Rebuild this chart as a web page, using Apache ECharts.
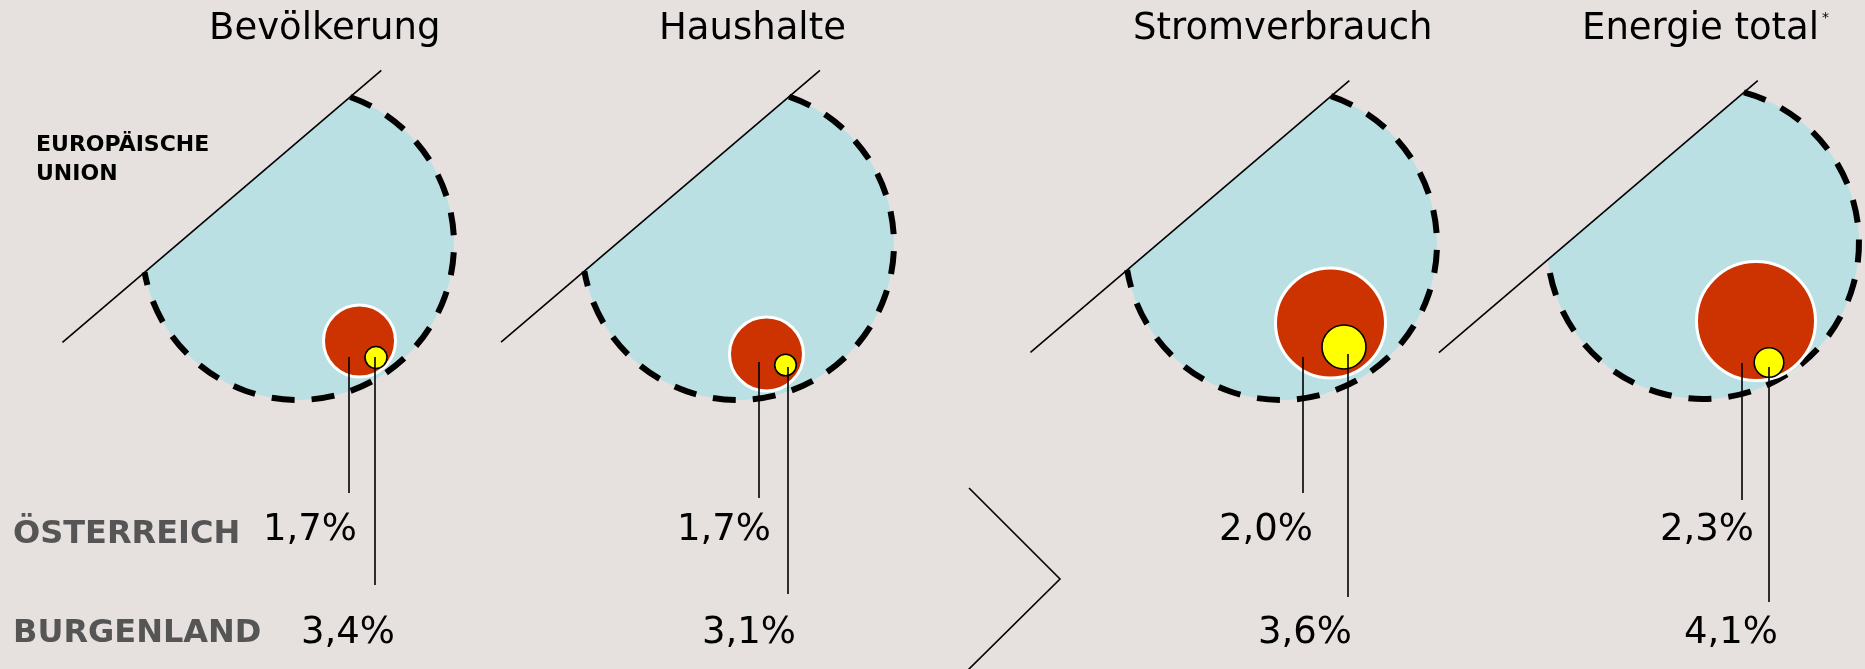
<!DOCTYPE html>
<html>
<head>
<meta charset="utf-8">
<script src="https://cdn.jsdelivr.net/npm/echarts@6/dist/echarts.min.js"></script>
<style>
  html, body { margin: 0; padding: 0; background: #e6e1df; }
  #main { width: 1865px; height: 669px; }
</style>
</head>
<body>
<div id="main"></div>
<script>
// data
const categories = ['Bevölkerung', 'Haushalte', 'Stromverbrauch', 'Energie total'];
const footnotes = ['', '', '', '*'];
const austria = [1.7, 1.7, 2.0, 2.3];     // Anteil Österreich an EU
const burgenland = [3.4, 3.1, 3.6, 4.1];  // Anteil Burgenland
const rowLabels = ['ÖSTERREICH', 'BURGENLAND'];
const euLabel = ['EUROPÄISCHE', 'UNION'];

// layout per panel (pixels)
const layout = [
  { cx: 298, cy: 244, r: 156, d: 78, t0: -243, t1: 176, red: [359.5, 341, 36], yel: [376, 357.5, 11],
    atX: 349, atY: [357, 493], blX: 375, blY: [357, 585], atLab: [310, 530], blLab: [348, 633], titleX: 209 },
  { cx: 738, cy: 244, r: 156, d: 79, t0: -244, t1: 175, red: [766.5, 354, 37], yel: [785.5, 365, 10.8],
    atX: 759, atY: [362, 498], blX: 788, blY: [367, 594], atLab: [724, 530], blLab: [749, 633], titleX: 659 },
  { cx: 1281, cy: 244, r: 156, d: 80, t0: -261, t1: 158, red: [1330.5, 323, 55], yel: [1344, 347, 22],
    atX: 1303, atY: [357, 493], blX: 1348, blY: [354, 597], atLab: [1266, 530], blLab: [1305, 633], titleX: 1133 },
  { cx: 1703, cy: 243, r: 156, d: 88, t0: -272, t1: 147, red: [1756, 321, 59.5], yel: [1769, 362.5, 14.8],
    atX: 1742, atY: [363, 500], blX: 1769, blY: [367, 602], atLab: [1707, 530], blLab: [1731, 633], titleX: 1582 }
];

const FONT = '"DejaVu Sans", Verdana, sans-serif';
const fmt = v => v.toFixed(1).replace('.', ',') + '%';

const measure = document.createElement('canvas').getContext('2d');
function textWidth(text, font) {
  measure.font = font;
  return measure.measureText(text).width;
}

// direction of the cut line and its normal (towards the cut-off part)
const ux = 0.761, uy = -0.6489;
const mx = -0.6489, my = -0.761;

function txt(text, x, y, font, fill, align) {
  return {
    type: 'text',
    style: {
      text: text, x: x, y: y, font: font, fill: fill,
      textAlign: align, align: align,
      textVerticalAlign: 'middle', verticalAlign: 'middle'
    }
  };
}

function renderItem(params, api) {
  const i = api.value(0);
  const g = layout[i];
  const k = api.size([1, 0])[0];
  const c = api.coord([g.cx, g.cy]);
  const r = g.r * k;
  const d = g.d * k;
  const midX = c[0] + mx * d, midY = c[1] + my * d;
  const half = Math.sqrt(r * r - d * d);
  const ax = midX + ux * half, ay = midY + uy * half;
  const bx = midX - ux * half, by = midY - uy * half;
  const arc = 'M' + ax + ' ' + ay + ' A' + r + ' ' + r + ' 0 1 1 ' + bx + ' ' + by;

  const red = api.coord([g.red[0], g.red[1]]);
  const yel = api.coord([g.yel[0], g.yel[1]]);
  const at0 = api.coord([g.atX, g.atY[0]]), at1 = api.coord([g.atX, g.atY[1]]);
  const bl0 = api.coord([g.blX, g.blY[0]]), bl1 = api.coord([g.blX, g.blY[1]]);
  const atLab = api.coord(g.atLab), blLab = api.coord(g.blLab);

  const titleFont = '37px ' + FONT;
  const title = categories[i];
  const tPos = api.coord([g.titleX, 29]);

  const children = [
    { type: 'path', shape: { pathData: arc + ' Z' }, style: { fill: '#bae0e3' } },
    { type: 'path', shape: { pathData: arc },
      style: { fill: 'none', stroke: '#000', lineWidth: 6, lineDash: [23, 17] } },
    { type: 'line',
      shape: { x1: midX + ux * g.t0 * k, y1: midY + uy * g.t0 * k, x2: midX + ux * g.t1 * k, y2: midY + uy * g.t1 * k },
      style: { stroke: '#000', lineWidth: 1.6 } },
    { type: 'circle', shape: { cx: red[0], cy: red[1], r: g.red[2] * k },
      style: { fill: '#cc3300', stroke: '#ffffff', lineWidth: 3 } },
    { type: 'line', shape: { x1: at0[0], y1: at0[1], x2: at1[0], y2: at1[1] },
      style: { stroke: '#000', lineWidth: 1.6 } },
    { type: 'circle', shape: { cx: yel[0], cy: yel[1], r: g.yel[2] * k },
      style: { fill: '#ffff00', stroke: '#000', lineWidth: 1.6 } },
    { type: 'line', shape: { x1: bl0[0], y1: bl0[1], x2: bl1[0], y2: bl1[1] },
      style: { stroke: '#000', lineWidth: 1.6 } },
    txt(fmt(api.value(1)), atLab[0], atLab[1], '37px ' + FONT, '#000', 'center'),
    txt(fmt(api.value(2)), blLab[0], blLab[1], '37px ' + FONT, '#000', 'center'),
    txt(title, tPos[0], tPos[1], titleFont, '#000', 'left')
  ];
  if (footnotes[i]) {
    const w = textWidth(title, titleFont);
    children.push(txt(footnotes[i], tPos[0] + w + 3, 18, '14px ' + FONT, '#000', 'left'));
  }
  return { type: 'group', children: children };
}

const chart = echarts.init(document.getElementById('main'));
chart.setOption({
  backgroundColor: '#e6e1df',
  animation: false,
  grid: { left: 0, right: 0, top: 0, bottom: 0 },
  xAxis: { type: 'value', min: 0, max: 1865, show: false },
  yAxis: { type: 'value', min: 0, max: 669, inverse: true, show: false },
  graphic: [
    { type: 'text', left: 36, top: 131, silent: true,
      style: { text: euLabel.join('\n'), font: 'bold 22px ' + FONT, fill: '#000', lineHeight: 29 } },
    { type: 'text', left: 13, top: 519, silent: true,
      style: { text: rowLabels[0], font: 'bold 32px ' + FONT, fill: '#555555' } },
    { type: 'text', left: 13, top: 618, silent: true,
      style: { text: rowLabels[1], font: 'bold 32px ' + FONT, fill: '#555555' } },
    { type: 'polyline', silent: true,
      shape: { points: [[969, 488], [1060, 579], [967, 671]] },
      style: { fill: 'none', stroke: '#000', lineWidth: 1.6 } }
  ],
  series: [{
    type: 'custom',
    silent: true,
    renderItem: renderItem,
    data: categories.map((c, i) => [i, austria[i], burgenland[i]])
  }]
});
</script>
</body>
</html>
